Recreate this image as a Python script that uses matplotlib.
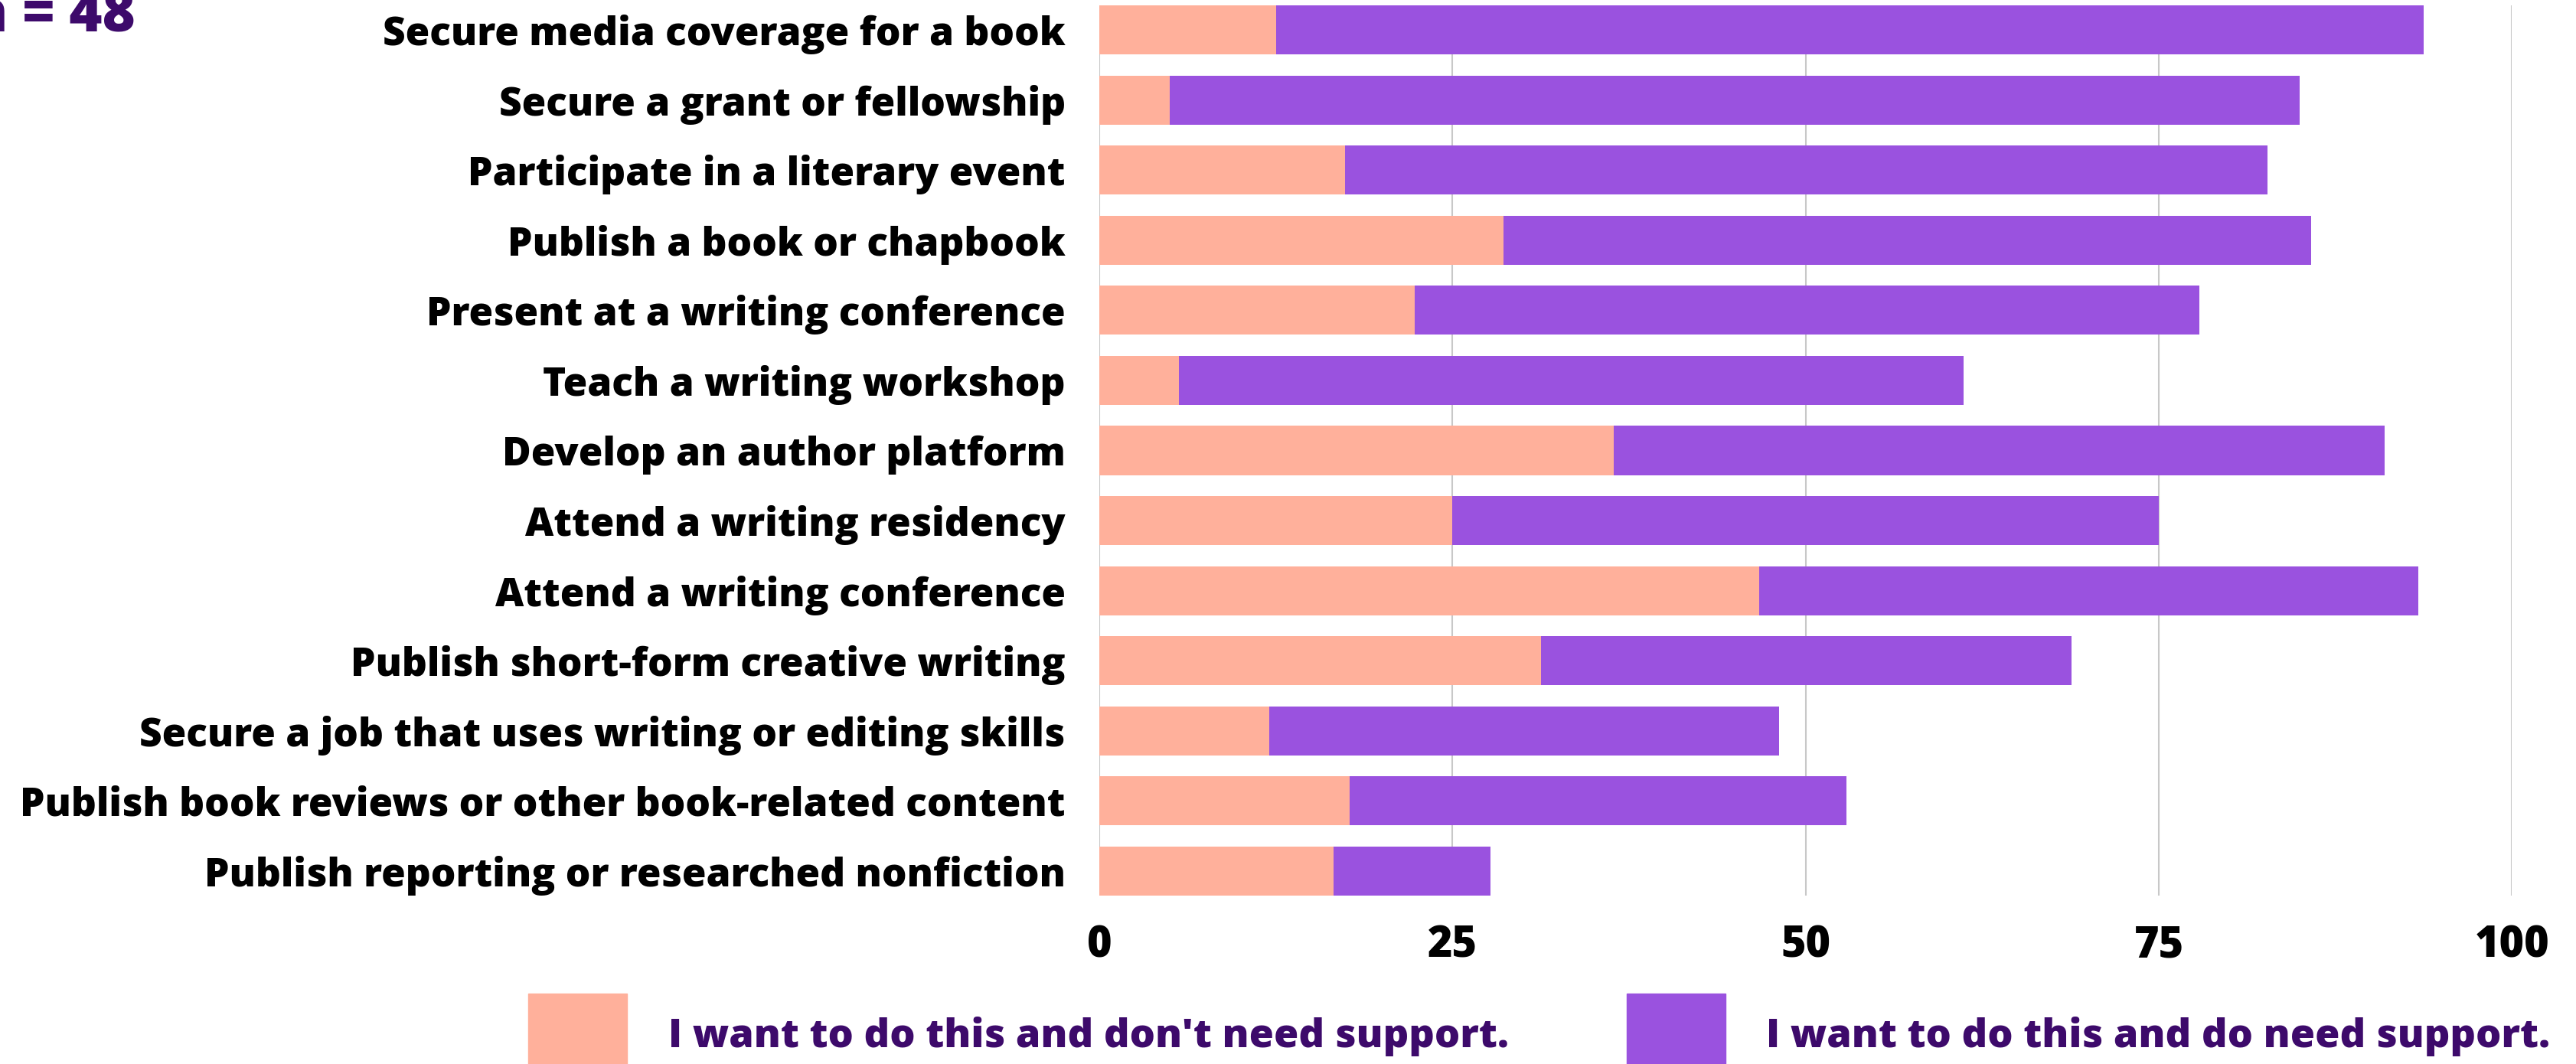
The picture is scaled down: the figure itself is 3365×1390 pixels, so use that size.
import numpy as np
import matplotlib.pyplot as plt
from matplotlib.patches import Rectangle

# survey: goals writers want to pursue, n = 48 (percent of respondents)
goals = [
    "Secure media coverage for a book",
    "Secure a grant or fellowship",
    "Participate in a literary event",
    "Publish a book or chapbook",
    "Present at a writing conference",
    "Teach a writing workshop",
    "Develop an author platform",
    "Attend a writing residency",
    "Attend a writing conference",
    "Publish short-form creative writing",
    "Secure a job that uses writing or editing skills",
    "Publish book reviews or other book-related content",
    "Publish reporting or researched nonfiction",
]
no_support = [12.5, 5.0, 17.4, 28.6, 22.3, 5.6, 36.4, 25.0, 46.7, 31.25, 12.0, 17.7, 16.6]
total_want = [93.75, 85.0, 82.7, 85.8, 77.9, 61.2, 91.0, 75.0, 93.4, 68.8, 48.1, 52.9, 27.7]
need_support = [t - s for t, s in zip(total_want, no_support)]
xticks = [0, 25, 50, 75, 100]

labels = ["I want to do this and don't need support.",
          "I want to do this and do need support."]
pink = "#FFB09B"
purple = "#9A52DF"
dark = "#3D0A6B"

plt.rcParams['font.family'] = ['Open Sans', 'DejaVu Sans']

fig = plt.figure(figsize=(33.65, 13.9), dpi=100)
ax = fig.add_axes([0.4268, 0.1583, 0.5483, 0.8367])

y = np.arange(len(goals))
ax.barh(y, no_support, height=0.7, color=pink, zorder=3)
ax.barh(y, need_support, left=no_support, height=0.7, color=purple, zorder=3)

ax.set_xlim(0, 100)
ax.set_ylim(len(goals) - 0.65, -0.35)
ax.set_xticks(xticks)
ax.set_xticklabels([str(v) for v in xticks], fontsize=40, fontweight='heavy')
ax.set_yticks(y)
ax.set_yticklabels(goals, fontsize=37, fontweight='heavy')
ax.tick_params(axis='both', length=0)
ax.tick_params(axis='y', pad=32)
ax.tick_params(axis='x', pad=27)
ax.grid(axis='x', color='#C8C8C8', linewidth=1.5, zorder=0)
for s in ax.spines.values():
    s.set_visible(False)

fig.text(177 / 3365, 1 - 42 / 1390, "n = 48", ha='right', va='baseline',
         fontsize=53, fontweight='heavy', color=dark)

# legend drawn by hand along the bottom edge
for x0, txt_x, col, lab in [(690, 873, pink, labels[0]), (2125, 2307, purple, labels[1])]:
    fig.patches.append(Rectangle((x0 / 3365, 0), 129 / 3365, 92 / 1390,
                                 transform=fig.transFigure, color=col))
    fig.text(txt_x / 3365, 1 - 1368 / 1390, lab, ha='left', va='baseline',
             fontsize=37.6, fontweight='heavy', color=dark)

fig.savefig("out.png", dpi=100, facecolor='white')
